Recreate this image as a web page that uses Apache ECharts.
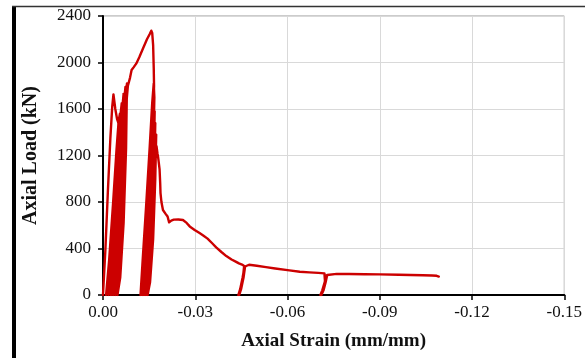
<!DOCTYPE html>
<html>
<head>
<meta charset="utf-8">
<script src="https://cdn.jsdelivr.net/npm/echarts@6/dist/echarts.min.js"></script>
<style>
html,body{margin:0;padding:0;background:#fff;}
#chart{width:585px;height:358px;}
</style>
</head>
<body>
<div id="chart"></div>
<script>
// Axis ticks
const xTicks = [0.00, -0.03, -0.06, -0.09, -0.12, -0.15];
const yTicks = [0, 400, 800, 1200, 1600, 2000, 2400];

// [strain (mm/mm), load (kN)] — pre-peak cyclic loops
const prePeakLoops = [
  [0,0],[-0.0008,400],[-0.0016,900],[-0.0024,1350],[-0.0030,1620],[-0.0034,1726],
  [-0.0040,1600],[-0.0046,1510],[-0.0050,1480],
  [-0.0048,1050],[-0.0042,500],[-0.0030,110],[-0.0010,0],
  [-0.0020,300],[-0.0033,800],[-0.0044,1250],[-0.0051,1500],[-0.0055,1560],
  [-0.0052,1050],[-0.0046,520],[-0.0035,120],[-0.0018,0],
  [-0.0027,300],[-0.0039,800],[-0.0049,1250],[-0.0056,1530],[-0.0061,1650],
  [-0.0058,1120],[-0.0051,540],[-0.0040,125],[-0.0026,0],
  [-0.0034,300],[-0.0045,800],[-0.0054,1250],[-0.0061,1560],[-0.0067,1730],
  [-0.0064,1170],[-0.0057,570],[-0.0046,135],[-0.0033,0],
  [-0.0041,300],[-0.0050,800],[-0.0059,1250],[-0.0065,1560],[-0.0073,1790],
  [-0.0070,1220],[-0.0062,600],[-0.0051,145],[-0.0040,0],
  [-0.0047,300],[-0.0056,800],[-0.0063,1250],[-0.0069,1560],[-0.0078,1820],
  [-0.0075,1260],[-0.0067,620],[-0.0056,150],[-0.0047,0],
  [-0.0053,300],[-0.0060,800],[-0.0067,1250],[-0.0073,1560],[-0.0081,1800],[-0.0088,1870],
  [-0.0093,1935],[-0.0100,1960],[-0.0108,1990],[-0.0118,2045],[-0.0130,2120],
  [-0.0143,2200],[-0.0152,2245],[-0.0157,2274],[-0.0160,2255]
];

// post-peak cyclic loops
const postPeakLoops = [
  [-0.0163,2150],[-0.0165,1950],[-0.0166,1800],
  [-0.0161,1200],[-0.0152,560],[-0.0138,130],[-0.0122,0],
  [-0.0129,300],[-0.0141,800],[-0.0152,1280],[-0.0160,1650],[-0.0165,1820],[-0.0167,1700],
  [-0.0163,1150],[-0.0155,540],[-0.0142,130],[-0.0128,0],
  [-0.0135,300],[-0.0146,780],[-0.0156,1250],[-0.0163,1550],[-0.0168,1580],
  [-0.0165,1100],[-0.0157,520],[-0.0145,130],[-0.0133,0],
  [-0.0140,300],[-0.0150,760],[-0.0159,1200],[-0.0166,1460],[-0.0170,1480],
  [-0.0167,1050],[-0.0160,500],[-0.0149,120],[-0.0139,0],
  [-0.0145,300],[-0.0155,760],[-0.0163,1150],[-0.0169,1350],[-0.0173,1380],
  [-0.0170,1000],[-0.0163,480],[-0.0153,110],[-0.0145,0],
  [-0.0151,300],[-0.0160,740],[-0.0168,1100],[-0.0174,1280],[-0.0177,1220]
];

// softening branch
const softening = [
  [-0.0179,1190],[-0.0184,1080],[-0.0186,960],[-0.0187,877],[-0.0190,800],[-0.0195,731],
  [-0.0203,700],[-0.0210,675],[-0.0215,625],[-0.0217,619],[-0.0222,640],[-0.0230,648],
  [-0.0245,650],[-0.0260,645],[-0.0272,620],[-0.0282,590],[-0.0298,560],[-0.0314,533],
  [-0.0327,510],[-0.0340,485],[-0.0355,445],[-0.0368,410],[-0.0385,370],[-0.0401,335],
  [-0.0418,305],[-0.0433,285],[-0.0442,272],[-0.0452,262],[-0.0459,250],
  [-0.0455,150],[-0.0447,50],[-0.0440,0],
  [-0.0446,50],[-0.0454,150],[-0.0460,240],
  [-0.0456,150],[-0.0449,50],[-0.0443,0],
  [-0.0449,50],[-0.0457,150],[-0.0462,245],[-0.0466,262]
];

// residual branch
const residual = [
  [-0.0475,260],[-0.0500,252],[-0.0530,240],[-0.0560,228],[-0.0606,212],[-0.0640,200],
  [-0.0671,195],[-0.0700,190],[-0.0720,186],[-0.0726,175],
  [-0.0722,110],[-0.0715,40],[-0.0707,0],
  [-0.0713,40],[-0.0721,110],[-0.0727,170],
  [-0.0724,110],[-0.0717,40],[-0.0710,0],
  [-0.0716,40],[-0.0724,110],[-0.0729,172],[-0.0734,182],
  [-0.0760,182],[-0.0800,181],[-0.0850,178],[-0.0900,177],[-0.0962,174],
  [-0.1000,172],[-0.1040,170],[-0.1070,168],[-0.1085,165],[-0.1092,158]
];

const curve = prePeakLoops.concat(postPeakLoops, softening, residual);

const serif = '"Liberation Serif", "Times New Roman", serif';
const chart = echarts.init(document.getElementById('chart'), null, {renderer: 'canvas'});
chart.setOption({
  animation: false,
  backgroundColor: '#ffffff',
  graphic: [
    {type: 'rect', shape: {x: 12, y: 6, width: 4, height: 352}, style: {fill: '#000'}, z: 10},
    {type: 'line', shape: {x1: 12, y1: 6.5, x2: 585, y2: 6.5}, style: {stroke: '#333', lineWidth: 1.5}, z: 10}
  ],
  grid: {left: 103, right: 19, top: 16, bottom: 63, show: true, borderColor: '#999', borderWidth: 1},
  xAxis: {
    type: 'value', min: xTicks[5], max: xTicks[0], interval: 0.03, inverse: true,
    name: 'Axial Strain (mm/mm)', nameLocation: 'middle', nameGap: 37,
    nameTextStyle: {fontFamily: serif, fontWeight: 'bold', fontSize: 19, color: '#111'},
    axisLine: {show: true, lineStyle: {color: '#000', width: 2}},
    axisTick: {show: true, length: 5, lineStyle: {color: '#000', width: 1.5}},
    axisLabel: {fontFamily: serif, fontSize: 17, color: '#111', margin: 9,
      formatter: v => (Math.abs(v) < 1e-9 ? 0 : v).toFixed(2)},
    splitLine: {show: true, lineStyle: {color: '#d9d9d9', width: 1}}
  },
  yAxis: {
    type: 'value', min: yTicks[0], max: yTicks[6], interval: 400,
    name: 'Axial Load (kN)', nameLocation: 'middle', nameGap: 62, nameRotate: 90,
    nameTextStyle: {fontFamily: serif, fontWeight: 'bold', fontSize: 20, color: '#111'},
    axisLine: {show: true, lineStyle: {color: '#000', width: 2}},
    axisTick: {show: true, length: 5, lineStyle: {color: '#000', width: 1.5}},
    axisLabel: {fontFamily: serif, fontSize: 17, color: '#111', margin: 12,
      formatter: v => String(Math.round(v))},
    splitLine: {show: true, lineStyle: {color: '#d9d9d9', width: 1}}
  },
  series: [{
    type: 'line', data: curve, showSymbol: false, symbol: 'none',
    lineStyle: {color: '#cc0000', width: 2.4, join: 'round', cap: 'round'},
    z: 3
  }]
});
</script>
</body>
</html>
